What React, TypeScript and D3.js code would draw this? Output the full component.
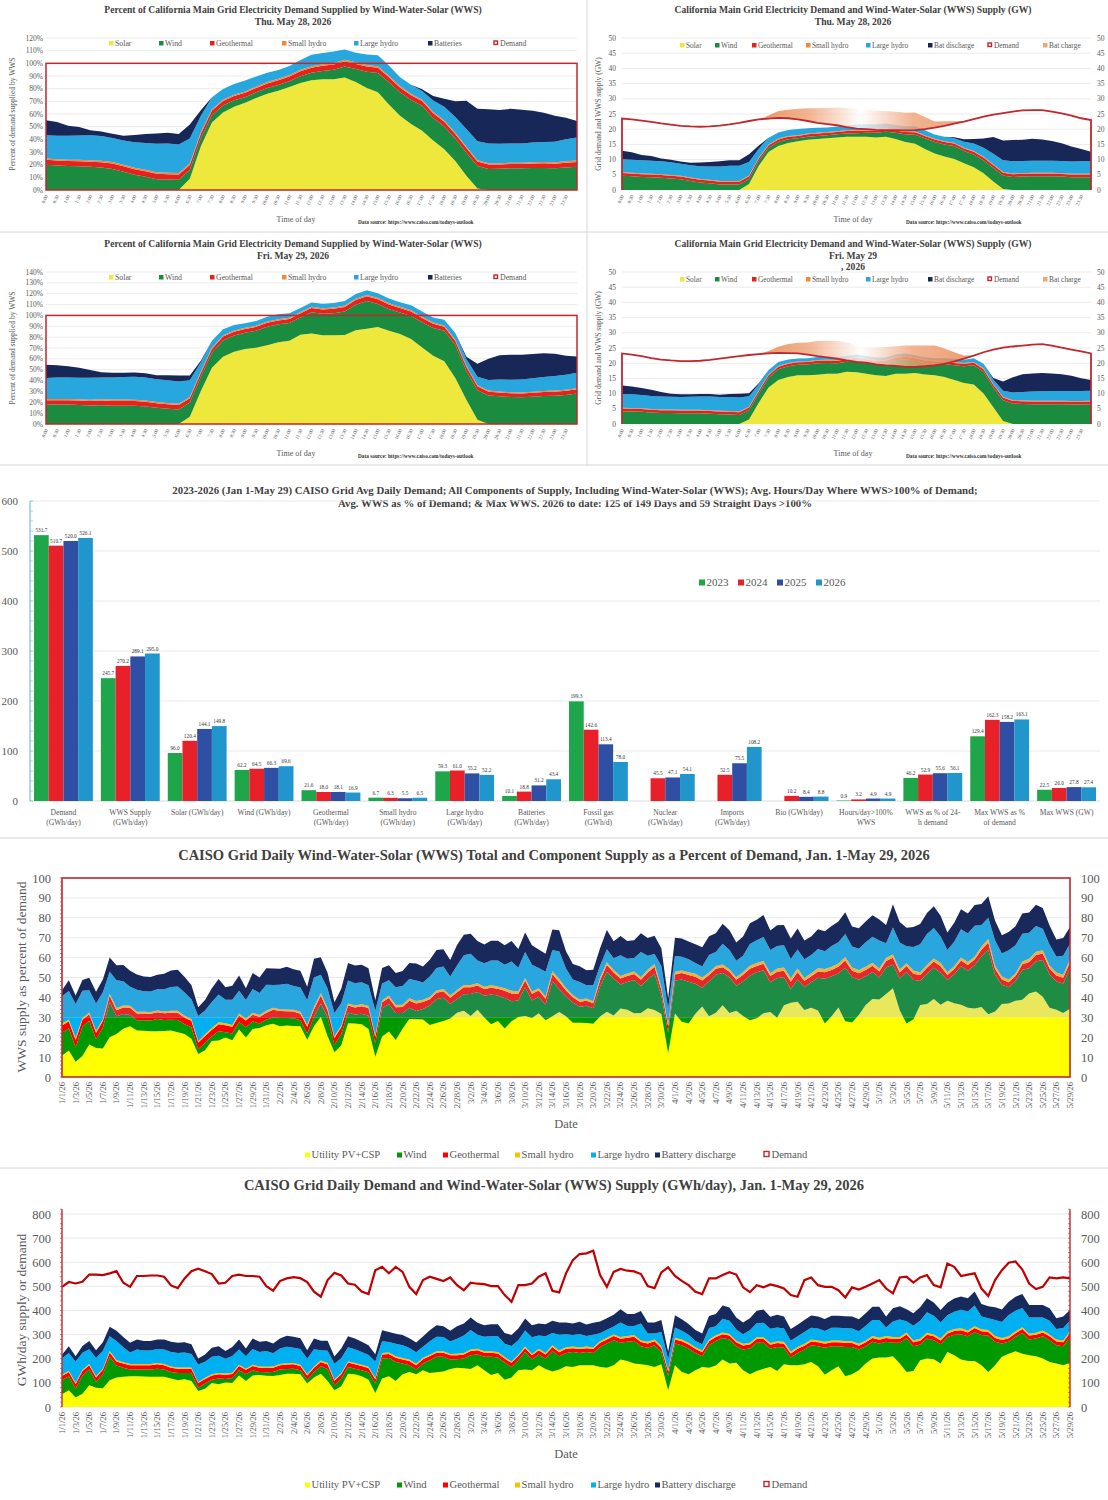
import React from 'react';
import * as d3 from 'd3';

const SERIF = '"Liberation Serif", "Times New Roman", Times, serif';
const TITLE = '#404040';
const LABEL = '#595959';
const GRID = '#e3e3e3';

// ---------- intraday data, GW at half-hour steps 0:00 .. 24:00 ----------
const demandMay28 = [23.5,23.2,22.8,22.4,21.9,21.5,21.1,20.9,20.8,20.9,21.2,21.6,22.1,22.7,23.2,23.5,23.7,23.6,23.2,22.7,22.1,21.7,21.3,20.7,20.2,20.0,19.8,19.7,19.7,19.6,19.7,20.0,20.5,21.1,21.8,22.5,23.3,24.1,24.8,25.3,25.8,26.2,26.3,26.3,25.8,25.2,24.5,23.6,23.0];
const solarMay28 = [0,0,0,0,0,0,0,0,0,0,0,0,0,2,8,12.5,14.5,15.5,16,16.5,16.8,17,17.3,17.5,17.5,17.5,17.3,17.5,16.8,15.8,15.2,13.5,12,11,10.2,8.8,7.5,5.5,2.8,0.3,0,0,0,0,0,0,0,0,0];
const windMay28 = [4.7,4.5,4.3,4.2,4.0,3.8,3.5,3.0,2.5,2.2,1.8,1.8,1.8,1.6,1.5,1.4,1.3,1.2,1.0,1.0,1.0,1.0,1.0,1.1,1.2,1.3,1.5,1.7,2.0,2.5,3.0,3.5,3.8,4.0,4.3,4.0,4.2,4.3,4.5,4.5,4.3,4.4,4.5,4.5,4.5,4.4,4.2,4.2,4.2];
const geoMay28 = [0.9,0.9,0.9,0.9,0.9,0.9,0.9,0.9,0.9,0.9,0.9,0.9,0.9,0.9,0.85,0.85,0.85,0.8,0.8,0.8,0.8,0.8,0.8,0.8,0.8,0.8,0.8,0.8,0.8,0.8,0.8,0.8,0.8,0.8,0.8,0.85,0.85,0.85,0.9,0.9,0.9,0.9,0.9,0.9,0.9,0.9,0.9,0.9,0.9];
const smallHydroMay28 = [0.25,0.25,0.25,0.25,0.25,0.25,0.25,0.25,0.25,0.25,0.25,0.25,0.25,0.25,0.25,0.25,0.25,0.25,0.25,0.25,0.25,0.25,0.25,0.25,0.25,0.25,0.25,0.25,0.25,0.25,0.25,0.25,0.25,0.25,0.25,0.25,0.25,0.25,0.25,0.25,0.25,0.25,0.25,0.25,0.25,0.25,0.25,0.25,0.25];
const largeHydroMay28 = [4.3,4.3,4.3,4.3,4.3,4.2,4.0,4.0,4.2,4.4,4.8,5.0,5.0,4.5,3.0,2.2,2.0,2.0,2.0,1.8,1.6,1.5,1.5,1.6,1.8,1.8,1.8,1.6,1.5,1.6,1.7,1.6,1.4,1.5,1.5,2.0,2.5,3.0,3.5,3.8,4.0,4.0,4.0,4.0,4.0,4.0,4.0,4.1,4.2];
const batteryMay28 = [2.8,2.5,1.8,1.5,0.9,0.8,0.7,0.8,1.2,1.5,1.7,1.8,1.8,2.5,1.0,0,0,0,0,0,0,0,0,0,0,0,0,0,0,0,0,0,0,0,0.3,0.8,1.5,3.0,5.5,6.5,7.0,7.0,7.2,7.0,6.5,5.8,5.0,4.0,3.0];
const chargeMay28 = [0,0,0,0,0,0,0,0,0,0,0,0,0,0,0,1.0,2.3,2.8,3.5,4.2,4.8,5.3,5.8,6.3,6.5,6.5,6.3,6.3,6.0,5.8,5.8,4.0,2.0,1.5,0.8,0.2,0,0,0,0,0,0,0,0,0,0,0,0,0];

const demandMay29 = [23.2,22.8,22.3,21.7,21.2,20.9,20.7,20.7,20.8,21.1,21.5,21.9,22.3,22.7,23.0,23.2,23.4,23.3,23.2,22.8,22.3,21.9,21.5,20.9,20.4,20.2,19.6,19.3,19.1,18.8,18.8,19.0,19.3,19.8,20.6,21.5,22.5,23.6,24.5,25.1,25.5,25.8,26.1,26.3,25.8,25.1,24.5,23.9,23.2];
const solarMay29 = [0,0,0,0,0,0,0,0,0,0,0,0,0,1.5,7,12,14.5,15.5,16,16,16.2,16.5,16.5,17.2,17,16.5,16,15.8,16.5,16.5,16.8,16.3,16,15.5,14.5,13.5,13,10,5.5,1,0,0,0,0,0,0,0,0,0];
const windMay29 = [4.2,4.1,4.0,3.8,3.6,3.6,3.5,3.5,3.5,3.4,3.2,3.1,3.0,3.0,3.0,3.2,3.5,3.5,3.5,3.6,3.8,3.6,3.5,3.3,4.0,4.0,4.0,4.2,4.5,4.8,4.0,3.8,3.8,4.2,4.8,5.5,6.3,7.2,6.5,6.8,6.7,6.6,6.5,6.5,6.5,6.5,6.4,6.4,6.5];
const geoMay29 = [0.9,0.9,0.9,0.9,0.9,0.9,0.9,0.9,0.9,0.9,0.9,0.9,0.9,0.9,0.85,0.85,0.85,0.8,0.8,0.8,0.8,0.8,0.8,0.8,0.8,0.8,0.8,0.8,0.8,0.8,0.8,0.8,0.8,0.8,0.8,0.85,0.85,0.85,0.9,0.9,0.9,0.9,0.9,0.9,0.9,0.9,0.9,0.9,0.9];
const smallHydroMay29 = [0.25,0.25,0.25,0.25,0.25,0.25,0.25,0.25,0.25,0.25,0.25,0.25,0.25,0.25,0.25,0.25,0.25,0.25,0.25,0.25,0.25,0.25,0.25,0.25,0.25,0.25,0.25,0.25,0.25,0.25,0.25,0.25,0.25,0.25,0.25,0.25,0.25,0.25,0.25,0.25,0.25,0.25,0.25,0.25,0.25,0.25,0.25,0.25,0.25];
const largeHydroMay29 = [4.5,4.5,4.4,4.3,4.3,4.2,4.2,4.3,4.4,4.5,4.5,4.6,4.6,3.5,2.0,1.5,1.3,1.2,1.0,1.0,1.0,1.0,0.9,0.8,0.8,0.8,0.8,0.8,0.8,0.8,0.8,0.8,0.8,0.9,1.0,1.0,1.2,1.5,1.5,2.0,2.5,2.8,3.0,3.1,3.2,3.2,3.3,3.3,3.3];
const batteryMay29 = [2.8,2.6,2.3,2.0,1.5,1.0,0.9,0.8,0.8,0.8,0.8,1.0,1.2,1.0,0.3,0,0,0,0,0,0,0,0,0,0,0,0,0,0,0,0,0,0,0,0,0,0,0,0.5,3.0,5.0,5.8,6.0,6.0,5.8,5.5,5.0,4.2,3.5];
const chargeMay29 = [0,0,0,0,0,0,0,0,0,0,0,0,0,0,0,0.8,2.0,3.0,3.5,4.0,5.0,5.5,5.8,6.0,5.5,5.0,5.5,6.0,6.5,7.0,7.0,6.8,6.5,5.0,3.0,1.0,0,0,0,0,0,0,0,0,0,0,0,0,0];

const TIME_LABELS = d3.range(48).map(i => `${Math.floor(i / 2)}:${i % 2 ? '30' : '00'}`);

// ---------- 2023-2026 averages ----------
const BAR_CATEGORIES = [
  ['Demand', '(GWh/day)'], ['WWS Supply', '(GWh/day)'], ['Solar (GWh/day)'], ['Wind (GWh/day)'],
  ['Geothermal', '(GWh/day)'], ['Small hydro', '(GWh/day)'], ['Large hydro', '(GWh/day)'], ['Batteries', '(GWh/day)'],
  ['Fossil gas', '(GWh/d)'], ['Nuclear', '(GWh/day)'], ['Imports', '(GWh/day)'], ['Bio (GWh/day)'],
  ['Hours/day>100%', 'WWS'], ['WWS as % of 24-', 'h demand'], ['Max WWS as %', 'of demand'], ['Max WWS (GW)'],
];
const YEARS = ['2023', '2024', '2025', '2026'];
const YEAR_COLORS = ['#1fa64b', '#e8202a', '#2e4fa3', '#2196cd'];
const avg2023 = [531.7, 245.7, 96.0, 62.2, 21.6, 6.7, 59.3, 10.1, 199.3, null, null, null, 0.9, 46.2, 129.4, 22.5];
const avg2024 = [510.7, 270.2, 120.4, 64.5, 18.0, 6.3, 61.0, 18.8, 142.6, 45.5, 52.5, 10.2, 3.2, 52.9, 162.3, 26.0];
const avg2025 = [520.0, 289.1, 144.1, 66.3, 18.1, 5.5, 55.2, 31.2, 113.4, 47.1, 75.5, 8.4, 4.9, 55.6, 158.2, 27.8];
const avg2026 = [526.1, 295.0, 149.8, 69.6, 16.9, 6.5, 52.2, 43.4, 78.0, 54.1, 108.2, 8.8, 4.9, 56.1, 163.1, 27.4];

// ---------- daily data Jan 1 - May 29 2026, GWh/day ----------
const dailyDemand = [
  498,518,512,519,549,549,547,554,563,515,498,543,543,545,545,540,504,493,533,563,573,563,551,512,515,543,549,543,543,540,501,
  482,522,533,538,534,518,478,457,526,556,545,512,507,479,468,567,581,554,581,560,498,468,526,540,531,522,537,505,
  484,515,511,509,501,501,464,436,505,505,512,540,554,482,475,554,609,634,637,648,547,498,560,572,565,562,551,501,493,558,579,
  543,523,505,478,468,533,533,547,559,549,496,476,505,496,508,501,491,464,457,526,537,505,498,498,484,454,496,487,498,512,
  526,491,471,537,540,516,537,547,505,496,595,581,543,549,554,491,460,526,567,598,603,570,512,489,498,537,533,537,533,
];
const dailySolar = [
  53,69,39,55,90,80,78,111,122,125,127,127,126,125,125,125,118,111,115,108,66,76,100,94,102,100,131,108,131,133,130,
  129,133,138,138,136,97,122,138,108,69,86,138,136,127,113,58,118,127,108,136,145,136,152,141,144,147,158,163,
  161,158,173,152,133,141,113,122,152,155,152,173,158,147,155,169,166,173,173,173,166,163,173,197,191,180,177,173,166,177,69,
  173,145,136,152,166,163,172,197,180,183,152,136,149,159,166,149,177,173,173,177,187,169,134,152,169,127,136,152,180,201,
  205,205,210,180,145,149,194,201,198,180,228,215,197,191,191,173,145,173,208,221,231,221,215,210,201,187,180,173,183,
];
const dailyWind = [
  58,58,37,76,65,24,58,97,50,38,28,28,29,30,34,30,27,30,26,33,14,21,13,24,14,19,21,28,21,12,14,
  16,22,20,21,16,16,23,31,50,21,32,28,23,25,31,39,83,76,79,44,28,19,28,53,64,61,39,35,
  40,57,45,56,75,64,71,44,42,73,45,45,43,85,55,55,62,51,55,51,83,100,104,69,79,94,75,73,90,51,60,
  90,111,106,72,44,93,102,89,100,69,86,106,117,107,76,100,69,32,51,61,69,83,112,100,83,122,113,86,72,69,
  58,65,56,86,140,103,65,83,79,80,62,85,105,102,120,125,150,97,55,49,60,86,65,74,92,90,76,79,108,
];
const dailyGeothermal = [
  18,18,19,18,18,18,18,18,17,17,18,18,18,18,18,18,18,18,18,18,19,19,18,18,18,18,18,18,18,18,18,
  18,18,18,18,18,18,18,18,18,19,18,18,18,18,18,18,17,17,17,17,18,18,18,17,17,17,17,17,
  17,17,17,17,17,17,17,17,17,17,17,17,17,17,17,17,16,16,16,16,17,17,17,17,17,17,17,17,17,17,18,
  17,17,17,17,17,17,16,16,16,16,17,17,16,16,16,16,16,17,17,16,16,16,16,16,16,17,16,16,16,16,
  16,16,16,16,16,16,16,16,16,16,15,15,16,16,16,16,16,16,15,15,15,16,16,16,16,16,16,16,16,
];
const dailySmallHydro = [
  5,5,6,5,5,5,5,6,6,5,5,5,5,5,5,5,5,5,5,5,4,5,5,5,5,5,5,5,5,5,5,
  5,5,5,5,5,5,5,6,6,5,5,5,5,5,5,5,6,6,6,6,6,6,6,6,6,6,6,6,
  6,6,6,6,6,6,6,6,6,6,6,6,6,7,7,7,7,7,7,7,7,7,7,7,7,7,7,7,7,7,6,
  7,7,7,7,7,7,7,7,7,7,7,7,7,7,7,8,8,8,8,8,8,8,8,8,8,8,8,8,8,8,
  8,8,8,8,8,8,8,8,8,8,8,8,8,8,8,8,8,8,8,8,8,8,8,8,8,8,8,8,8,
];
const dailyLargeHydro = [
  68,74,87,71,61,76,74,61,79,63,48,60,56,56,58,60,60,60,62,56,73,67,72,71,61,69,63,51,65,60,65,
  55,64,69,64,65,64,71,42,51,65,61,59,57,53,49,69,49,43,52,53,48,48,46,56,60,59,51,62,
  72,81,58,60,62,65,55,64,60,66,69,55,69,51,66,54,47,56,43,52,33,33,33,60,42,38,70,35,25,59,46,
  43,36,33,26,26,47,38,57,54,46,40,52,58,60,59,57,55,45,44,49,49,49,45,52,52,52,52,52,61,67,
  74,36,64,73,46,61,75,85,77,66,67,72,77,79,86,53,49,67,66,88,85,79,67,63,54,56,43,51,42,
];
const dailyBattery = [
  15,28,22,28,35,32,35,40,42,42,40,42,40,40,40,42,42,42,42,40,25,30,38,40,32,38,42,32,44,42,42,
  40,42,45,45,45,35,45,40,42,30,40,45,45,42,40,30,45,42,42,42,40,40,42,45,48,45,45,52,
  50,52,50,48,50,50,45,45,48,50,50,50,50,50,50,48,48,50,48,50,48,48,48,55,50,50,52,45,45,50,30,
  50,48,45,45,45,50,50,55,55,50,48,50,52,55,50,52,50,48,48,50,50,50,50,50,50,50,50,50,52,55,
  55,45,55,55,50,52,55,58,55,52,52,55,55,55,58,52,50,52,52,55,58,58,52,52,52,52,45,48,45,
];
const DAYS = d3.timeDay.range(new Date(2026, 0, 1), new Date(2026, 4, 30));
const fmtDay = d3.timeFormat('%-m/%-d/%y');

const KEYS = ['solar', 'wind', 'geo', 'smallHydro', 'largeHydro', 'battery'];

const day28 = { demand: demandMay28, solar: solarMay28, wind: windMay28, geo: geoMay28, smallHydro: smallHydroMay28, largeHydro: largeHydroMay28, battery: batteryMay28, charge: chargeMay28 };
const day29 = { demand: demandMay29, solar: solarMay29, wind: windMay29, geo: geoMay29, smallHydro: smallHydroMay29, largeHydro: largeHydroMay29, battery: batteryMay29, charge: chargeMay29 };

const INTRA = { solar: '#efe83c', wind: '#1b8c3f', geo: '#e5221e', smallHydro: '#ef8a3c', largeHydro: '#28a7de', battery: '#172858' };
const BRIGHT = { solar: '#ffff00', wind: '#009a00', geo: '#ff0000', smallHydro: '#ffc000', largeHydro: '#00b0f0', battery: '#172a5e' };
const MUTED = { solar: '#e9e75c', wind: '#1f8c45', geo: '#e6282a', smallHydro: '#f3b23c', largeHydro: '#29a6de', battery: '#1a295b' };
const DEMAND_RED = '#c1272d';

function LegendItem({ x, y, label, color, size, fs, hollow }: any) {
  return (
    <g>
      {hollow ? (
        <rect x={x} y={y - size + 0.5} width={size - 1} height={size - 1} fill="#fff" stroke={color} strokeWidth={1.4} />
      ) : (
        <rect x={x} y={y - size + 0.5} width={size} height={size} fill={color} />
      )}
      <text x={x + size + 1.5} y={y + 1} fontSize={fs} fill={LABEL}>{label}</text>
    </g>
  );
}

function TimeAxis({ x, y0 }: any) {
  return (
    <g>
      {TIME_LABELS.map((t, i) => (
        <text key={t} transform={`translate(${x(i) + 2},${y0}) rotate(-65)`} textAnchor="end" fontSize={4.8} fill={LABEL}>{t}</text>
      ))}
    </g>
  );
}

function PercentPanel({ top, titles, day, yMax }: any) {
  const x = d3.scaleLinear().domain([0, 48]).range([46, 577]);
  const y = d3.scaleLinear().domain([0, yMax]).range([top + 190, top + 38]);
  const rows = day.demand.map((dem: number, i: number) => {
    const r: any = { i };
    KEYS.forEach(k => { r[k] = (day[k][i] / dem) * 100; });
    return r;
  });
  const series = d3.stack<any>().keys(KEYS)(rows);
  const area = d3.area<any>().x(d => x(d.data.i)).y0(d => y(d[0])).y1(d => y(d[1]));
  const ticks = d3.range(0, yMax + 1, 10);
  const legend = [
    { x: 109, label: 'Solar', color: INTRA.solar }, { x: 159, label: 'Wind', color: INTRA.wind },
    { x: 210, label: 'Geothermal', color: INTRA.geo }, { x: 282, label: 'Small hydro', color: INTRA.smallHydro },
    { x: 354, label: 'Large hydro', color: INTRA.largeHydro }, { x: 428, label: 'Batteries', color: INTRA.battery },
    { x: 494, label: 'Demand', color: DEMAND_RED, hollow: true },
  ];
  return (
    <g>
      {titles.map((t: string, i: number) => (
        <text key={i} x={293} y={top + 13 + i * 11.5} textAnchor="middle" fontSize={9.6} fontWeight="bold" fill={TITLE}>{t}</text>
      ))}
      {ticks.map(t => (
        <g key={t}>
          <line x1={46} x2={577} y1={y(t)} y2={y(t)} stroke={GRID} strokeWidth={0.7} />
          <text x={43} y={y(t) + 2.5} textAnchor="end" fontSize={7.5} fill={LABEL}>{t}%</text>
        </g>
      ))}
      {series.map(s => <path key={s.key} d={area(s) || ''} fill={(INTRA as any)[s.key]} />)}
      <rect x={x(0)} y={y(100)} width={x(48) - x(0)} height={y(0) - y(100)} fill="none" stroke={DEMAND_RED} strokeWidth={1.5} />
      {legend.map(l => <LegendItem key={l.label} x={l.x} y={top + 45} label={l.label} color={l.color} size={4.5} fs={7.8} hollow={l.hollow} />)}
      <text transform={`translate(15,${top + 114}) rotate(-90)`} textAnchor="middle" fontSize={7.5} fill={LABEL}>Percent of demand supplied by WWS</text>
      <TimeAxis x={x} y0={top + 196} />
      <text x={296} y={top + 222} textAnchor="middle" fontSize={8} fill={LABEL}>Time of day</text>
      <text x={358} y={top + 224} fontSize={5.3} fontWeight="bold" fill="#333">Data source: https://www.caiso.com/todays-outlook</text>
    </g>
  );
}

function GwPanel({ top, titles, day, gid }: any) {
  const x = d3.scaleLinear().domain([0, 48]).range([622, 1091]);
  const y = d3.scaleLinear().domain([0, 50]).range([top + 190, top + 38]);
  const rows = day.demand.map((dem: number, i: number) => {
    const r: any = { i, demand: dem, charge: day.charge[i] };
    KEYS.forEach(k => { r[k] = day[k][i]; });
    return r;
  });
  const series = d3.stack<any>().keys(KEYS)(rows);
  const area = d3.area<any>().x(d => x(d.data.i)).y0(d => y(d[0])).y1(d => y(d[1]));
  const chargeArea = d3.area<any>().x(d => x(d.i)).y0(d => y(d.demand)).y1(d => y(d.demand + d.charge));
  const demandLine = d3.line<any>().x(d => x(d.i)).y(d => y(d.demand));
  const dPath = `M${x(0)},${y(0)}L${(demandLine(rows) || '').slice(1)}L${x(48)},${y(0)}`;
  const ticks = d3.range(0, 51, 5);
  const legend = [
    { x: 680, label: 'Solar', color: INTRA.solar }, { x: 715, label: 'Wind', color: INTRA.wind },
    { x: 752, label: 'Geothermal', color: INTRA.geo }, { x: 806, label: 'Small hydro', color: INTRA.smallHydro },
    { x: 866, label: 'Large hydro', color: INTRA.largeHydro }, { x: 928, label: 'Bat discharge', color: INTRA.battery },
    { x: 988, label: 'Demand', color: DEMAND_RED, hollow: true }, { x: 1043, label: 'Bat charge', color: '#f0a576' },
  ];
  return (
    <g>
      <defs>
        <linearGradient id={gid} gradientUnits="userSpaceOnUse" x1={x(15)} x2={x(36)} y1={0} y2={0}>
          <stop offset="0" stopColor="#e8844a" />
          <stop offset="0.2" stopColor="#eea278" />
          <stop offset="0.45" stopColor="#ffffff" />
          <stop offset="0.7" stopColor="#eea278" />
          <stop offset="1" stopColor="#e8844a" />
        </linearGradient>
      </defs>
      {titles.map((t: string, i: number) => (
        <text key={i} x={853} y={top + 13 + i * 11.5} textAnchor="middle" fontSize={9.6} fontWeight="bold" fill={TITLE}>{t}</text>
      ))}
      {ticks.map(t => (
        <g key={t}>
          <line x1={622} x2={1091} y1={y(t)} y2={y(t)} stroke={GRID} strokeWidth={0.7} />
          <text x={616} y={y(t) + 2.5} textAnchor="end" fontSize={7.5} fill={LABEL}>{t}</text>
          <text x={1097} y={y(t) + 2.5} fontSize={7.5} fill={LABEL}>{t}</text>
        </g>
      ))}
      {series.map(s => <path key={s.key} d={area(s) || ''} fill={(INTRA as any)[s.key]} />)}
      <path d={chargeArea(rows) || ''} fill={`url(#${gid})`} opacity={0.8} />
      <path d={dPath} fill="none" stroke={DEMAND_RED} strokeWidth={1.8} />
      {legend.map(l => <LegendItem key={l.label} x={l.x} y={top + 47} label={l.label} color={l.color} size={4.5} fs={7.4} hollow={l.hollow} />)}
      <text transform={`translate(601,${top + 114}) rotate(-90)`} textAnchor="middle" fontSize={7.5} fill={LABEL}>Grid demand and WWS supply (GW)</text>
      <TimeAxis x={x} y0={top + 196} />
      <text x={853} y={top + 222} textAnchor="middle" fontSize={8} fill={LABEL}>Time of day</text>
      <text x={906} y={top + 224} fontSize={5.3} fontWeight="bold" fill="#333">Data source: https://www.caiso.com/todays-outlook</text>
    </g>
  );
}

function BarPanel() {
  const x = d3.scaleBand<number>().domain(d3.range(BAR_CATEGORIES.length)).range([30, 1100]).paddingInner(0.12).paddingOuter(0.06);
  const xi = d3.scaleBand<number>().domain([0, 1, 2, 3]).range([0, x.bandwidth()]);
  const y = d3.scaleLinear().domain([0, 600]).range([801, 501]);
  const yearVals = [avg2023, avg2024, avg2025, avg2026];
  return (
    <g>
      <text x={575} y={494} textAnchor="middle" fontSize={10.8} fontWeight="bold" fill={TITLE}>2023-2026 (Jan 1-May 29) CAISO Grid Avg Daily Demand; All Components of Supply, Including Wind-Water-Solar (WWS); Avg. Hours/Day Where WWS&gt;100% of Demand;</text>
      <text x={575} y={507} textAnchor="middle" fontSize={10.8} fontWeight="bold" fill={TITLE}>Avg. WWS as % of Demand; &amp; Max WWS. 2026 to date: 125 of 149 Days and 59 Straight Days &gt;100%</text>
      {y.ticks(6).map(t => (
        <g key={t}>
          {t > 0 && <line x1={30} x2={1100} y1={y(t)} y2={y(t)} stroke={GRID} strokeWidth={0.8} />}
          <text x={18} y={y(t) + 4} textAnchor="end" fontSize={11} fill={LABEL}>{t}</text>
        </g>
      ))}
      <line x1={30} x2={1100} y1={y(0)} y2={y(0)} stroke="#d0d0d0" strokeWidth={0.8} />
      <line x1={30} x2={30} y1={y(0)} y2={y(600)} stroke="#5ab6cf" strokeWidth={1} />
      {d3.range(0, 601, 20).map(t => <line key={t} x1={30} x2={33} y1={y(t)} y2={y(t)} stroke="#5ab6cf" strokeWidth={0.6} />)}
      {BAR_CATEGORIES.map((cat, ci) => (
        <g key={ci}>
          {yearVals.map((vals, yi) => {
            const v = vals[ci];
            if (v == null) return null;
            const bx = (x(ci) || 0) + (xi(yi) || 0);
            return (
              <g key={yi}>
                <rect x={bx} y={y(v)} width={xi.bandwidth()} height={y(0) - y(v)} fill={YEAR_COLORS[yi]} />
                <text x={bx + xi.bandwidth() / 2} y={y(v) - 3} textAnchor="middle" fontSize={5.3} fill="#333">{v.toFixed(1)}</text>
              </g>
            );
          })}
          {cat.map((line, li) => (
            <text key={li} x={(x(ci) || 0) + x.bandwidth() / 2} y={815 + li * 10} textAnchor="middle" fontSize={7.6} fill={LABEL}>{line}</text>
          ))}
        </g>
      ))}
      {YEARS.map((yr, i) => (
        <LegendItem key={yr} x={699 + i * 39} y={585} label={yr} color={YEAR_COLORS[i]} size={6} fs={11} />
      ))}
    </g>
  );
}

const DAILY_LEGEND = [
  { x: 305, label: 'Utility PV+CSP', key: 'solar' }, { x: 397, label: 'Wind', key: 'wind' },
  { x: 443, label: 'Geothermal', key: 'geo' }, { x: 515, label: 'Small hydro', key: 'smallHydro' },
  { x: 591, label: 'Large hydro', key: 'largeHydro' }, { x: 655, label: 'Battery discharge', key: 'battery' },
];

function DailyAxisX({ x, y0 }: any) {
  return (
    <g>
      {DAYS.map((d, i) => i % 2 === 0 ? (
        <text key={i} transform={`translate(${x(i) + 3},${y0}) rotate(-90)`} textAnchor="end" fontSize={8.6} fill={LABEL}>{fmtDay(d)}</text>
      ) : null)}
    </g>
  );
}

function DailyLegend({ y }: any) {
  return (
    <g>
      {DAILY_LEGEND.map(l => <LegendItem key={l.key} x={l.x} y={y} label={l.label} color={(BRIGHT as any)[l.key]} size={5} fs={10.6} />)}
      <LegendItem x={764} y={y} label="Demand" color={DEMAND_RED} size={6} fs={10.6} hollow />
    </g>
  );
}

function DailyPercentPanel() {
  const x = d3.scaleLinear().domain([0, 148]).range([62, 1070]);
  const y = d3.scaleLinear().domain([0, 100]).range([1077, 878]);
  const rows = dailyDemand.map((dem, i) => ({
    i,
    solar: (dailySolar[i] / dem) * 100, wind: (dailyWind[i] / dem) * 100, geo: (dailyGeothermal[i] / dem) * 100,
    smallHydro: (dailySmallHydro[i] / dem) * 100, largeHydro: (dailyLargeHydro[i] / dem) * 100, battery: (dailyBattery[i] / dem) * 100,
  }));
  const series = d3.stack<any>().keys(KEYS)(rows);
  const area = d3.area<any>().x(d => x(d.data.i)).y0(d => y(d[0])).y1(d => y(d[1]));
  return (
    <g>
      <defs>
        <clipPath id="below30"><rect x={60} y={y(30)} width={1015} height={y(0) - y(30) + 1} /></clipPath>
        <clipPath id="above30"><rect x={60} y={y(100) - 5} width={1015} height={y(30) - y(100) + 5} /></clipPath>
      </defs>
      <text x={554} y={860} textAnchor="middle" fontSize={14.5} fontWeight="bold" fill={TITLE}>CAISO Grid Daily Wind-Water-Solar (WWS) Total and Component Supply as a Percent of Demand, Jan. 1-May 29, 2026</text>
      {d3.range(0, 101, 10).map(t => (
        <g key={t}>
          <line x1={62} x2={1070} y1={y(t)} y2={y(t)} stroke={GRID} strokeWidth={0.8} />
          <text x={51} y={y(t) + 4.5} textAnchor="end" fontSize={12.5} fill={LABEL}>{t}</text>
          <text x={1081} y={y(t) + 4.5} fontSize={12.5} fill={LABEL}>{t}</text>
        </g>
      ))}
      <g clipPath="url(#below30)">
        {series.map(s => <path key={s.key} d={area(s) || ''} fill={(BRIGHT as any)[s.key]} />)}
      </g>
      <g clipPath="url(#above30)">
        {series.map(s => <path key={s.key} d={area(s) || ''} fill={(MUTED as any)[s.key]} />)}
      </g>
      <rect x={x(0)} y={y(100)} width={x(148) - x(0)} height={y(0) - y(100)} fill="none" stroke={DEMAND_RED} strokeWidth={1.6} />
      {d3.range(0, 101, 2).map(t => <line key={t} x1={x(0) - 2} x2={x(0)} y1={y(t)} y2={y(t)} stroke={DEMAND_RED} strokeWidth={0.6} />)}
      <text transform="translate(26,977) rotate(-90)" textAnchor="middle" fontSize={13.5} fill={LABEL}>WWS supply as percent of demand</text>
      <DailyAxisX x={x} y0={1082} />
      <text x={566} y={1128} textAnchor="middle" fontSize={12.5} fill={LABEL}>Date</text>
      <DailyLegend y={1157} />
    </g>
  );
}

function DailySupplyPanel() {
  const x = d3.scaleLinear().domain([0, 148]).range([62, 1070]);
  const y = d3.scaleLinear().domain([0, 800]).range([1407, 1214]);
  const rows = dailyDemand.map((dem, i) => ({
    i, demand: dem, solar: dailySolar[i], wind: dailyWind[i], geo: dailyGeothermal[i],
    smallHydro: dailySmallHydro[i], largeHydro: dailyLargeHydro[i], battery: dailyBattery[i],
  }));
  const series = d3.stack<any>().keys(KEYS)(rows);
  const area = d3.area<any>().x(d => x(d.data.i)).y0(d => y(d[0])).y1(d => y(d[1]));
  const line = d3.line<any>().x(d => x(d.i)).y(d => y(d.demand));
  return (
    <g>
      <text x={554} y={1190} textAnchor="middle" fontSize={14.5} fontWeight="bold" fill={TITLE}>CAISO Grid Daily Demand and Wind-Water-Solar (WWS) Supply (GWh/day), Jan. 1-May 29,  2026</text>
      {d3.range(0, 801, 100).map(t => (
        <g key={t}>
          <line x1={62} x2={1070} y1={y(t)} y2={y(t)} stroke={GRID} strokeWidth={0.8} />
          <text x={51} y={y(t) + 4.5} textAnchor="end" fontSize={12.5} fill={LABEL}>{t}</text>
          <text x={1081} y={y(t) + 4.5} fontSize={12.5} fill={LABEL}>{t}</text>
        </g>
      ))}
      {series.map(s => <path key={s.key} d={area(s) || ''} fill={(BRIGHT as any)[s.key]} />)}
      <path d={line(rows) || ''} fill="none" stroke="#c00000" strokeWidth={2.2} />
      {[x(0), x(148)].map((ax, k) => (
        <g key={k}>
          <line x1={ax} x2={ax} y1={y(0)} y2={y(820)} stroke={DEMAND_RED} strokeWidth={1.4} />
          {d3.range(0, 821, 20).map(t => <line key={t} x1={ax - 2} x2={ax} y1={y(t)} y2={y(t)} stroke={DEMAND_RED} strokeWidth={0.6} />)}
        </g>
      ))}
      <text transform="translate(26,1310) rotate(-90)" textAnchor="middle" fontSize={13.5} fill={LABEL}>GWh/day supply or demand</text>
      <DailyAxisX x={x} y0={1412} />
      <text x={566} y={1458} textAnchor="middle" fontSize={12.5} fill={LABEL}>Date</text>
      <DailyLegend y={1487} />
    </g>
  );
}

export default function App() {
  return (
    <div style={{ position: 'absolute', left: 0, top: 0, width: 1108, height: 1500, background: '#fff' }}>
      <svg width={1108} height={1500} style={{ display: 'block', fontFamily: SERIF }}>
        <rect width={1108} height={1500} fill="#fff" />
        <line x1={587} x2={587} y1={0} y2={465} stroke="#d6d6d6" />
        <line x1={0} x2={1108} y1={232} y2={232} stroke="#d6d6d6" />
        <line x1={0} x2={1108} y1={465} y2={465} stroke="#d6d6d6" />
        <line x1={0} x2={1108} y1={838} y2={838} stroke="#d6d6d6" />
        <line x1={0} x2={1108} y1={1168} y2={1168} stroke="#d6d6d6" />
        <PercentPanel top={0} day={day28} yMax={120}
          titles={['Percent of California Main Grid Electricity Demand Supplied by Wind-Water-Solar (WWS)', 'Thu. May 28,  2026']} />
        <GwPanel top={0} day={day28} gid="chg28"
          titles={['California Main Grid Electricity Demand and Wind-Water-Solar (WWS) Supply (GW)', 'Thu. May 28, 2026']} />
        <PercentPanel top={234} day={day29} yMax={140}
          titles={['Percent of California Main Grid Electricity Demand Supplied by Wind-Water-Solar (WWS)', 'Fri. May 29,  2026']} />
        <GwPanel top={234} day={day29} gid="chg29"
          titles={['California Main Grid Electricity Demand and Wind-Water-Solar (WWS) Supply (GW)', 'Fri. May 29', ', 2026']} />
        <BarPanel />
        <DailyPercentPanel />
        <DailySupplyPanel />
      </svg>
    </div>
  );
}
